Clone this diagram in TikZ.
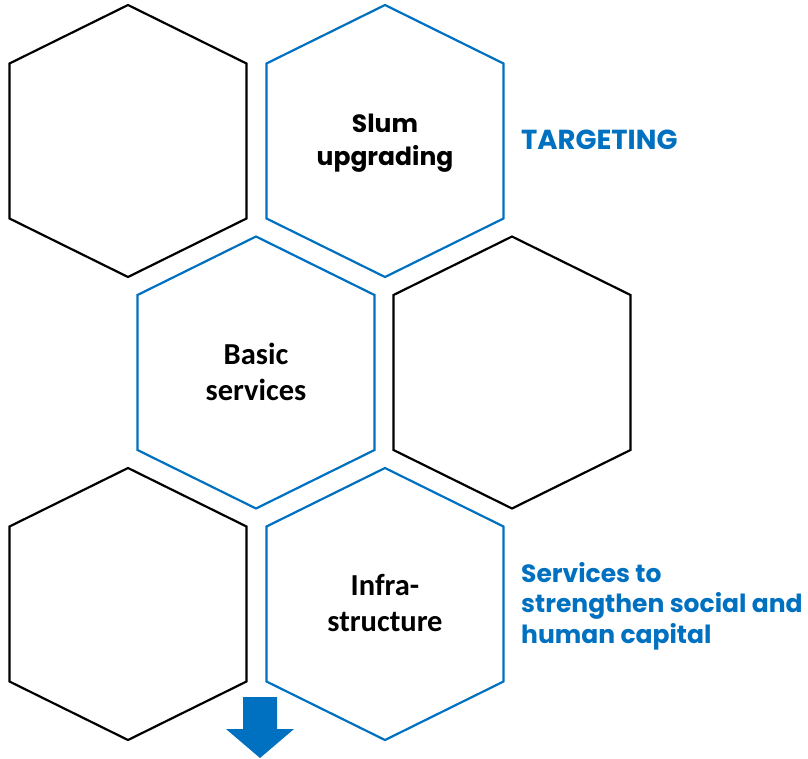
\documentclass[tikz,border=0pt]{standalone}
\usepackage{fontspec}
\setmainfont{Carlito}[BoldFont={Carlito Bold}]
\newfontfamily\geofont{Poppins}
\definecolor{hexBlue}{RGB}{0,112,192}

\begin{document}
\begin{tikzpicture}[x=1pt, y=-1pt,
  hexa/.pic={\draw[line width=2.2pt, line join=miter] (0,-136) -- (118.5,-77.5) -- (118.5,77.5) -- (0,136) -- (-118.5,77.5) -- (-118.5,-77.5) -- cycle;},
  cell/.style={font=\bfseries\fontsize{30.5}{35.5}\selectfont, align=center},
  geocell/.style={font=\geofont\bfseries\fontsize{25}{33}\selectfont, align=center},
  side/.style={font=\geofont\bfseries\fontsize{25}{30.5}\selectfont, align=left, text=hexBlue, inner sep=0pt}]
\useasboundingbox (0,0) rectangle (808,758);

% Hexagons
\pic at (128,141) {hexa};
\pic[color=hexBlue] at (385,141) {hexa};
\pic[color=hexBlue] at (256,372.5) {hexa};
\pic at (512,372.5) {hexa};
\pic at (128,604) {hexa};
\pic[color=hexBlue] at (385,604) {hexa};

% Labels
\node[geocell] (slum) at (385,143) {Slum\\upgrading};
\node[cell] (basic) at (256,372) {Basic\\services};
\node[cell] (infra) at (385,603) {Infra-\\structure};
\node[side, font=\geofont\bfseries\fontsize{27.5}{30}\selectfont, anchor=base west] (target) at (521,149) {TARGETING};
\node[side, anchor=west] (social) at (521,606) {Services to\\strengthen social and\\human capital};

% Arrow
\fill[hexBlue] (243,697) -- (277,697) -- (277,729) -- (294,729) -- (260,758) -- (226,729) -- (243,729) -- cycle;
\end{tikzpicture}
\end{document}
